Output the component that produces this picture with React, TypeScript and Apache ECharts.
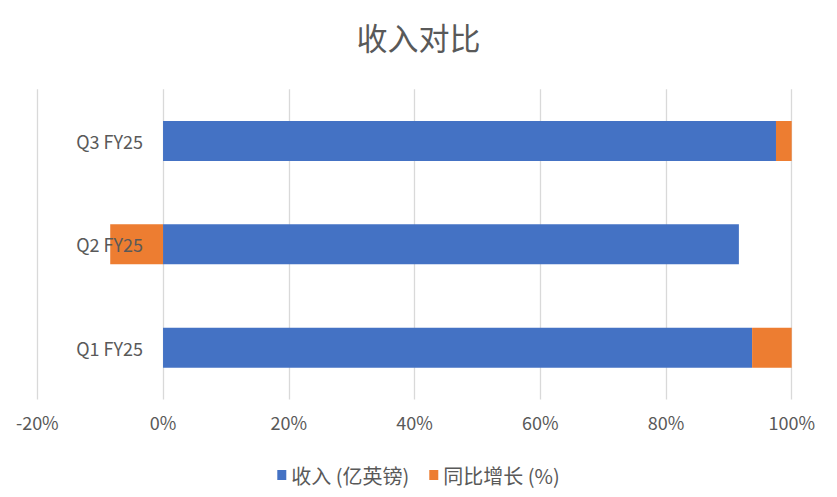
import React, { useEffect, useRef } from "react";
import * as echarts from "echarts";

const categories = ["Q1 FY25", "Q2 FY25", "Q3 FY25"];
const revenueShare = [93.7, 91.6, 97.5];
const growthShare = [6.3, -8.4, 2.5];
const seriesNames = ["收入 (亿英镑)", "同比增长 (%)"];
const titleText = "收入对比";

export default function App() {
  const ref = useRef<HTMLDivElement>(null);
  useEffect(() => {
    document.body.style.margin = "0";
    const chart = echarts.init(ref.current!, null, { renderer: "svg" });
    const font = "'Noto Sans CJK SC', 'Noto Sans', sans-serif";
    const gridLeft = 37.3;
    const gridRight = 45.3;
    const plotWidth = 837 - gridLeft - gridRight;
    chart.setOption({
      animation: false,
      backgroundColor: "#ffffff",
      title: {
        text: titleText,
        left: "center",
        top: 16,
        textStyle: { fontSize: 31, fontWeight: "normal", color: "#595959", fontFamily: font },
      },
      legend: {
        data: seriesNames,
        top: 460,
        left: "center",
        icon: "rect",
        itemWidth: 9,
        itemHeight: 10,
        itemGap: 20,
        textStyle: { fontSize: 20, color: "#595959", fontFamily: font },
      },
      grid: {
        left: gridLeft,
        right: gridRight,
        top: 89.3,
        bottom: 97.6,
        containLabel: false,
        outerBoundsMode: "none",
      },
      xAxis: {
        type: "value",
        min: -20,
        max: 100,
        interval: 20,
        axisLabel: {
          formatter: "{value}%",
          fontSize: 18,
          color: "#595959",
          fontFamily: font,
          margin: 14,
        },
        axisLine: { show: false },
        axisTick: { show: false },
        splitLine: { show: true, lineStyle: { color: "#D9D9D9", width: 1.3 } },
      },
      yAxis: {
        type: "category",
        data: categories,
        z: 10,
        offset: -(plotWidth * 20) / 120,
        axisLine: { show: false, onZero: false },
        axisTick: { show: false },
        axisLabel: { fontSize: 18, color: "#595959", fontFamily: font, margin: 20 },
      },
      series: [
        {
          name: seriesNames[0],
          type: "bar",
          stack: "total",
          data: revenueShare,
          barWidth: 40,
          itemStyle: { color: "#4472C4" },
        },
        {
          name: seriesNames[1],
          type: "bar",
          stack: "total",
          data: growthShare,
          barWidth: 40,
          itemStyle: { color: "#ED7D31" },
        },
      ],
    });
    return () => chart.dispose();
  }, []);
  return <div ref={ref} style={{ width: 837, height: 497 }} />;
}
